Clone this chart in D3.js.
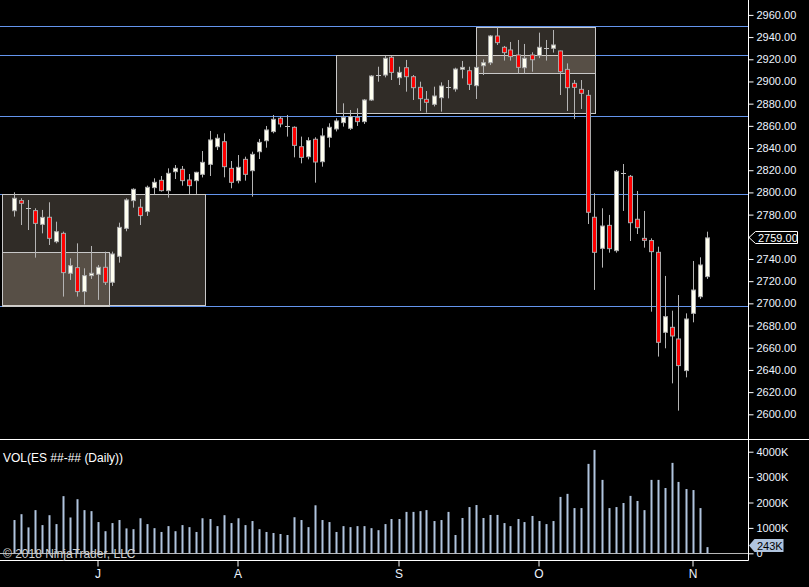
<!DOCTYPE html>
<html>
<head>
<meta charset="utf-8">
<script src="https://cdn.jsdelivr.net/npm/d3@7/dist/d3.min.js"></script>
<style>
  body { margin: 0; background: #000; }
  svg { display: block; font-family: "Liberation Sans", Arial, sans-serif; }
</style>
</head>
<body>
<script>
var w = 809;
var h = 587;

// daily bars, index 0 = first visible session
var opens  = [2783.5,2792.6,2785.7,2783.6,2771.2,2777.6,2755.6,2763.1,2727.1,2732.2,
              2710.6,2725.0,2726.2,2732.5,2719.0,2742.4,2767.6,2792.6,2786.6,2782.7,
              2804.3,2810.9,2801.6,2818.7,2820.8,2811.2,2810.6,2816.3,2825.3,2841.2,
              2845.7,2821.7,2810.6,2829.8,2819.6,2836.7,2846.6,2854.8,2866.8,2859.9,
              2858.7,2841.2,2832.2,2847.9,2827.7,2849.7,2857.2,2862.9,2857.8,2867.7,
              2863.8,2883.3,2905.8,2905.8,2921.8,2903.4,2912.4,2904.3,2894.7,2883.9,
              2879.4,2885.4,2895.3,2893.2,2911.0,2909.7,2896.2,2914.2,2916.9,2941.0,
              2930.8,2928.4,2923.9,2912.4,2923.9,2923.3,2930.5,2929.9,2927.5,2910.9,
              2898.3,2892.9,2887.5,2777.6,2749.6,2770.3,2747.5,2817.2,2814.5,2775.8,
              2758.6,2756.6,2746.0,2673.9,2678.4,2667.9,2639.4,2691.0,2706.0,2724.1];
var highs  = [2800.1,2794.7,2793.2,2785.7,2784.2,2791.1,2773.6,2764.6,2740.6,2754.1,
              2731.6,2751.7,2734.6,2746.6,2746.6,2772.7,2794.7,2803.7,2794.1,2806.1,
              2812.7,2814.8,2821.7,2824.7,2823.8,2816.6,2818.6,2837.3,2855.4,2852.4,
              2853.3,2828.3,2833.7,2832.2,2836.7,2848.2,2859.9,2869.8,2868.3,2869.8,
              2859.5,2850.3,2849.7,2849.7,2857.8,2862.3,2866.8,2880.3,2874.3,2875.8,
              2884.2,2905.8,2913.3,2922.9,2922.9,2913.3,2919.4,2905.8,2899.8,2891.4,
              2895.3,2899.2,2901.3,2912.4,2918.5,2913.3,2912.9,2919.9,2941.9,2948.8,
              2932.0,2935.6,2937.4,2933.8,2926.3,2944.0,2937.4,2946.4,2927.8,2916.3,
              2901.3,2901.3,2892.3,2799.2,2785.7,2779.7,2820.2,2825.6,2815.7,2801.3,
              2783.3,2758.6,2751.1,2724.7,2693.4,2707.5,2691.0,2738.2,2741.5,2764.6];
var lows   = [2778.2,2770.6,2766.1,2741.2,2763.1,2752.6,2754.1,2706.1,2721.1,2706.1,
              2699.0,2722.0,2703.1,2716.6,2715.7,2736.7,2765.0,2786.3,2770.6,2778.8,
              2798.6,2800.7,2795.3,2812.1,2806.1,2798.6,2798.6,2813.5,2814.8,2838.2,
              2813.6,2803.7,2808.2,2810.6,2796.2,2830.1,2840.3,2853.3,2858.7,2850.3,
              2831.6,2826.2,2829.8,2808.8,2823.2,2840.6,2855.0,2859.3,2856.3,2859.9,
              2861.7,2882.4,2899.8,2903.7,2901.3,2896.8,2890.8,2883.3,2873.4,2871.9,
              2877.5,2872.8,2884.8,2890.8,2902.8,2892.3,2884.2,2905.8,2914.8,2932.9,
              2918.8,2918.8,2907.3,2907.3,2908.8,2921.0,2918.8,2926.0,2887.8,2873.4,
              2866.2,2875.2,2771.5,2712.1,2732.2,2745.7,2745.7,2783.3,2756.2,2762.5,
              2750.2,2692.5,2652.0,2659.5,2627.9,2603.3,2633.3,2682.9,2704.0,2722.0];
var closes = [2794.7,2790.2,2785.7,2772.1,2777.5,2758.6,2764.6,2727.7,2734.0,2710.6,
              2725.0,2727.1,2732.5,2719.0,2744.5,2768.5,2793.2,2802.8,2779.1,2804.6,
              2809.1,2801.6,2817.2,2821.7,2810.6,2806.1,2818.1,2827.1,2847.3,2848.8,
              2823.2,2809.1,2822.6,2816.3,2834.3,2845.1,2856.3,2865.9,2861.7,2859.9,
              2842.4,2831.6,2846.7,2827.4,2850.9,2858.7,2864.4,2867.7,2868.3,2863.8,
              2883.3,2904.9,2905.8,2920.9,2908.2,2908.2,2904.3,2894.4,2884.5,2881.2,
              2886.9,2895.9,2895.3,2911.2,2912.7,2897.4,2912.7,2916.9,2941.0,2935.0,
              2926.0,2922.4,2912.7,2920.9,2919.6,2930.8,2930.5,2932.9,2908.8,2894.4,
              2894.7,2889.3,2782.1,2746.0,2769.7,2749.3,2819.0,2817.2,2772.7,2768.2,
              2756.8,2746.6,2664.9,2688.0,2670.6,2643.9,2685.9,2712.0,2734.6,2759.0];
// volume in thousands of contracts
var volumes = [1310,1540,1020,1700,1110,1500,1150,2250,1410,2130,
               1700,1660,1230,870,1190,1310,980,950,1380,1150,
               990,840,1070,870,1110,1030,840,1380,1350,1070,
               1500,1190,1380,1110,1270,950,840,800,760,720,
               1420,1310,1030,1890,1310,1230,840,1070,1030,1070,
               1070,990,910,1150,1350,1350,1630,1630,1660,1700,
               1270,1310,1630,720,1390,1820,1900,1390,1510,1510,
               1190,1070,1350,1230,1470,1270,1150,1270,2220,2340,
               1780,1780,3520,4070,2890,1780,1820,1980,2260,2060,
               1700,2890,2890,2570,3560,2810,2530,2490,1780,243];

// month markers on the time axis (bar index of first session)
var monthIdx    = [12, 32, 55, 75, 97];
var monthLabels = ["J", "A", "S", "O", "N"];

// horizontal price levels
var levels = [2950.0, 2923.6, 2869.1, 2798.3, 2697.5];

// zones: bar index from/to, price top/bottom
var zoneFrom = [-1.7, -1.7, 46.05, 66.05];
var zoneTo   = [27.3, 13.6, 83.05, 83.05];
var zoneTop  = [2798.3, 2746.3, 2923.6, 2948.8];
var zoneBot  = [2697.9, 2697.9, 2871.1, 2907.4];

var priceTicks = d3.range(2600, 2961, 20);
var volTicks = [0, 1000, 2000, 3000, 4000];

var axisX = 748.5;

var xScale = d3.scaleLinear().domain([0, 99]).range([13.5, 706.5]);
var yScale = d3.scaleLinear().domain([2600, 2960]).range([414.3, 14.9]);
var vScale = d3.scaleLinear().domain([0, 4000]).range([553.3, 451.7]);

var svg = d3.select("body").append("svg")
    .attr("width", w)
    .attr("height", h);

svg.append("rect").attr("width", w).attr("height", h).attr("fill", "#000");

var n = closes.length;
var idx = d3.range(n);

//Levels (zones are drawn over them)
svg.selectAll("line.level")
    .data(levels)
    .enter()
    .append("line")
    .attr("class", "level")
    .attr("x1", 0)
    .attr("x2", axisX)
    .attr("y1", function(d) { return Math.round(yScale(d)) + 0.5; })
    .attr("y2", function(d) { return Math.round(yScale(d)) + 0.5; })
    .attr("stroke", "#6495ed")
    .attr("stroke-width", 1);

//Zones
svg.selectAll("rect.zone")
    .data(d3.range(zoneFrom.length))
    .enter()
    .append("rect")
    .attr("class", "zone")
    .attr("x", function(d) { return Math.round(xScale(zoneFrom[d])) + 0.5; })
    .attr("y", function(d) { return Math.round(yScale(zoneTop[d])) + 0.5; })
    .attr("width", function(d) { return Math.round(xScale(zoneTo[d]) - xScale(zoneFrom[d])); })
    .attr("height", function(d) { return Math.round(yScale(zoneBot[d]) - yScale(zoneTop[d])); })
    .attr("fill", "rgba(255,232,205,0.19)")
    .attr("stroke", "#c8c8c8")
    .attr("stroke-width", 1);

//Candles
var cx = function(i) { return Math.round(xScale(i)) + 0.5; };

svg.selectAll("line.wick")
    .data(idx)
    .enter()
    .append("line")
    .attr("class", "wick")
    .attr("x1", cx).attr("x2", cx)
    .attr("y1", function(i) { return yScale(highs[i]); })
    .attr("y2", function(i) { return yScale(lows[i]); })
    .attr("stroke", "#b4b4b4")
    .attr("stroke-width", 1);

svg.selectAll("rect.body")
    .data(idx.filter(function(i) { return Math.abs(opens[i] - closes[i]) >= 0.5; }))
    .enter()
    .append("rect")
    .attr("class", "body")
    .attr("x", function(i) { return cx(i) - 2; })
    .attr("y", function(i) { return yScale(Math.max(opens[i], closes[i])); })
    .attr("width", 4)
    .attr("height", function(i) { return Math.abs(yScale(opens[i]) - yScale(closes[i])); })
    .attr("fill", function(i) { return closes[i] >= opens[i] ? "#fffff0" : "#ff0000"; })
    .attr("stroke", "#a8a8a8")
    .attr("stroke-width", 1);

svg.selectAll("line.doji")
    .data(idx.filter(function(i) { return Math.abs(opens[i] - closes[i]) < 0.5; }))
    .enter()
    .append("line")
    .attr("class", "doji")
    .attr("x1", function(i) { return cx(i) - 2.5; })
    .attr("x2", function(i) { return cx(i) + 2.5; })
    .attr("y1", function(i) { return Math.round(yScale(closes[i])) + 0.5; })
    .attr("y2", function(i) { return Math.round(yScale(closes[i])) + 0.5; })
    .attr("stroke", "#c0c0c0")
    .attr("stroke-width", 1);

//Volume
svg.append("line")
    .attr("x1", 0).attr("x2", axisX)
    .attr("y1", 553.5).attr("y2", 553.5)
    .attr("stroke", "#b8b8b8");

svg.selectAll("rect.vol")
    .data(idx)
    .enter()
    .append("rect")
    .attr("class", "vol")
    .attr("x", function(i) { return cx(i) - 1; })
    .attr("y", function(i) { return vScale(volumes[i]); })
    .attr("width", 2)
    .attr("height", function(i) { return vScale(0) - vScale(volumes[i]); })
    .attr("fill", "#b0c4de");

//Panel frame
svg.append("line")
    .attr("x1", 0).attr("x2", w)
    .attr("y1", 439.5).attr("y2", 439.5)
    .attr("stroke", "#ffffff");

svg.append("line")
    .attr("x1", axisX).attr("x2", axisX)
    .attr("y1", 0).attr("y2", 560.5)
    .attr("stroke", "#ffffff");

svg.append("line")
    .attr("x1", 0).attr("x2", axisX)
    .attr("y1", 560.5).attr("y2", 560.5)
    .attr("stroke", "#ffffff");

//Axes
var yAxis = d3.axisRight(yScale)
    .tickValues(priceTicks)
    .tickFormat(d3.format(".2f"))
    .tickSize(5)
    .tickPadding(3);

var vAxis = d3.axisRight(vScale)
    .tickValues(volTicks)
    .tickFormat(function(d) { return d === 0 ? "0" : d + "K"; })
    .tickSize(5)
    .tickPadding(3);

var xAxis = d3.axisBottom(xScale)
    .tickValues(monthIdx)
    .tickFormat(function(d, i) { return monthLabels[i]; })
    .tickSize(6)
    .tickPadding(3);

function styleAxis(g, size) {
    g.select(".domain").remove();
    g.selectAll(".tick line").attr("stroke", "#ffffff");
    g.selectAll(".tick text")
        .attr("fill", "#eef4ff")
        .attr("font-size", size)
        .attr("font-family", "Liberation Sans, Arial, sans-serif");
}

svg.append("g")
    .attr("class", "axis")
    .attr("transform", "translate(" + axisX + ",0)")
    .call(yAxis)
    .call(styleAxis, 11);

svg.append("g")
    .attr("class", "axis")
    .attr("transform", "translate(" + axisX + ",0)")
    .call(vAxis)
    .call(styleAxis, 11);

svg.append("g")
    .attr("class", "axis")
    .attr("transform", "translate(0,560.5)")
    .call(xAxis)
    .call(styleAxis, 12);

//Last price marker
var lastY = Math.round(yScale(closes[n - 1])) - 0.5;
svg.append("polygon")
    .attr("points", [[749, lastY], [755.5, lastY - 6], [797.5, lastY - 6], [797.5, lastY + 6], [755.5, lastY + 6]].join(" "))
    .attr("fill", "#000")
    .attr("stroke", "#ffffff");
svg.append("text")
    .attr("x", 758)
    .attr("y", lastY + 4)
    .text(d3.format(".2f")(closes[n - 1]))
    .attr("font-size", 11)
    .attr("fill", "#ffffff");

//Last volume marker (sits over the "0" label, as in the original)
var lastV = Math.round(vScale(volumes[n - 1])) - 1.5;
svg.append("polygon")
    .attr("points", [[749, lastV], [754.5, lastV - 6.5], [783.5, lastV - 6.5], [783.5, lastV + 6.5], [754.5, lastV + 6.5]].join(" "))
    .attr("fill", "#b0c4de");
svg.append("text")
    .attr("x", 757)
    .attr("y", lastV + 4)
    .text(volumes[n - 1] + "K")
    .attr("font-size", 11)
    .attr("fill", "#000");

//Labels
svg.append("text")
    .attr("x", 3)
    .attr("y", 462)
    .text("VOL(ES ##-## (Daily))")
    .attr("font-size", 12)
    .attr("fill", "#ffffff");

svg.append("text")
    .attr("x", 3)
    .attr("y", 558)
    .text("\u00a9 2018 NinjaTrader, LLC")
    .attr("font-size", 12)
    .attr("fill", "#d0d0d0");
</script>
</body>
</html>
